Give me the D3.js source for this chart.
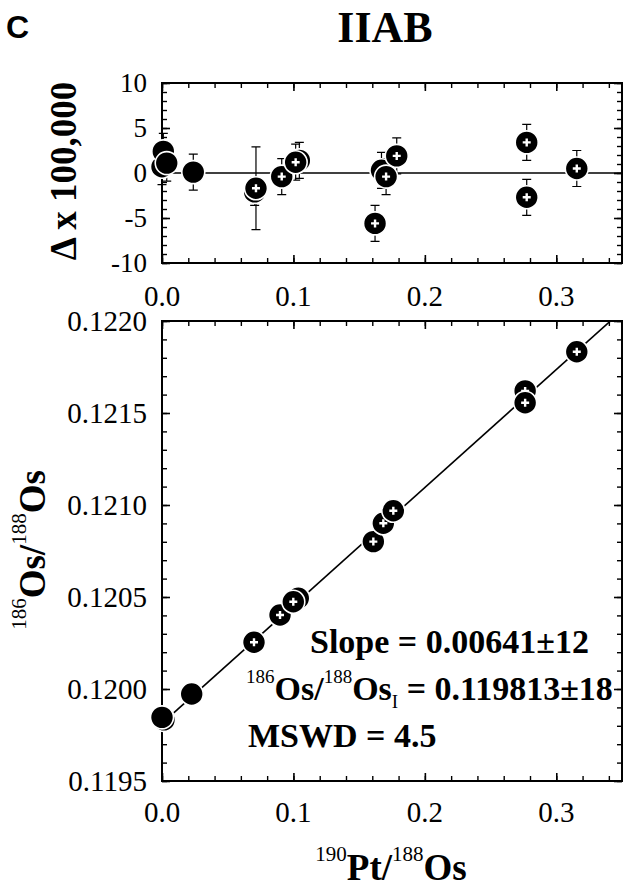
<!DOCTYPE html>
<html>
<head>
<meta charset="utf-8">
<script src="https://cdn.jsdelivr.net/npm/d3@7"></script>
<style>
  html, body { margin: 0; padding: 0; background: #fff; }
  svg { display: block; }
</style>
</head>
<body>
<svg id="chart" width="629" height="888"></svg>
<script>
// ---- Isochron data: 190Pt/188Os vs 186Os/188Os ----
const isoPt   = [0.0015, 0.0000, 0.0226, 0.0700, 0.0898, 0.1037, 0.0999, 0.1608, 0.1684, 0.1760, 0.2763, 0.2763, 0.3156];
const isoOs   = [0.119832, 0.119846, 0.119973, 0.120254, 0.120402, 0.120493, 0.120474, 0.120801, 0.120901, 0.120969, 0.121620, 0.121556, 0.121833];
const isoMark = ["dot", "dot", "dot", "cross", "cross", "cross", "cross", "cross", "cross", "cross", "cross", "cross", "cross"];

// ---- Residuals from the fit (x 100,000) with 2-sigma bars ----
const resPt    = [0.0000, 0.0010, 0.0036, 0.0238, 0.0705, 0.0715, 0.0911, 0.1045, 0.1017, 0.1621, 0.1670, 0.1705, 0.1786, 0.2775, 0.2775, 0.3156];
const resDelta = [0.7, 2.4, 1.1, 0.1, -2.1, -1.7, -0.4, 1.4, 1.2, -5.6, 0.3, -0.4, 1.9, 3.4, -2.7, 0.5];
const resErr   = [2.0, 2.0, 2.0, 2.0, 1.5, 4.6, 2.0, 2.0, 2.0, 2.0, 2.0, 2.0, 2.0, 2.0, 2.0, 2.0];
const resMark  = ["dot", "dot", "dot", "dot", "cross", "cross", "cross", "cross", "cross", "cross", "cross", "cross", "cross", "cross", "cross", "cross"];

// ---- Regression results ----
const fitSlope = 0.00641;
const fitIntercept = 0.119813;
const fitMSWD = 4.5;

// ---- Axis ticks ----
const xDomain = [0, 0.35];
const xMajor = [0.0, 0.1, 0.2, 0.3];
const xMinor = d3.range(0, 0.3501, 0.02);
const deltaDomain = [-10, 10];
const deltaMajor = [10, 5, 0, -5, -10];
const deltaMinor = d3.range(-10, 10.01, 1);
const osDomain = [0.1195, 0.1220];
const osMajor = [0.1195, 0.1200, 0.1205, 0.1210, 0.1215, 0.1220];
const osMinor = d3.range(0, 26).map(i => 0.1195 + i * 0.0001);

const SERIF = "'Liberation Serif', 'Times New Roman', Times, serif";
const SANS = "'Liberation Sans', Arial, Helvetica, sans-serif";

const svg = d3.select("#chart");

const left = 162, right = 622;
const top1 = { t: 83, b: 263 };
const bot1 = { t: 321, b: 781 };

const x = d3.scaleLinear().domain(xDomain).range([left, right]);
const yDelta = d3.scaleLinear().domain(deltaDomain).range([top1.b, top1.t]);
const yOs = d3.scaleLinear().domain(osDomain).range([bot1.b, bot1.t]);

// Inward ticks on all four sides of a panel
function frame(panel, yScale, yMinorVals, yMajorVals) {
  const g = svg.append("g");
  const sides = [
    [d3.axisBottom(x), `translate(0,${panel.b})`, xMinor, xMajor],
    [d3.axisTop(x), `translate(0,${panel.t})`, xMinor, xMajor],
    [d3.axisLeft(yScale), `translate(${left},0)`, yMinorVals, yMajorVals],
    [d3.axisRight(yScale), `translate(${right},0)`, yMinorVals, yMajorVals]
  ];
  sides.forEach(([ax, tr, minor, major]) => {
    const gm = g.append("g").attr("transform", tr)
      .call(ax.tickValues(minor).tickSize(-5).tickFormat(""));
    gm.select(".domain").remove();
    gm.selectAll("line").attr("stroke", "#000").attr("stroke-width", 1.4);
    const gM = g.append("g").attr("transform", tr)
      .call(ax.tickValues(major).tickSize(-8).tickFormat(""));
    gM.select(".domain").remove();
    gM.selectAll("line").attr("stroke", "#000").attr("stroke-width", 1.6);
  });
  g.append("rect")
    .attr("x", left).attr("y", panel.t)
    .attr("width", right - left).attr("height", panel.b - panel.t)
    .attr("fill", "none").attr("stroke", "#000").attr("stroke-width", 2);
  return g;
}

function marker(sel, cx, cy, mark) {
  sel.append("circle")
    .attr("cx", cx).attr("cy", cy).attr("r", 11.5)
    .attr("fill", "#000").attr("stroke", "#fff").attr("stroke-width", 1.6);
  if (mark === "cross") {
    sel.append("path")
      .attr("d", `M${cx - 4},${cy}H${cx + 4}M${cx},${cy - 4}V${cy + 4}`)
      .attr("stroke", "#fff").attr("stroke-width", 2.4).attr("fill", "none");
  }
}

// ---------------- Residual panel ----------------
svg.append("line")
  .attr("x1", x(xDomain[0])).attr("x2", x(xDomain[1]))
  .attr("y1", yDelta(0)).attr("y2", yDelta(0))
  .attr("stroke", "#000").attr("stroke-width", 1.6);

frame(top1, yDelta, deltaMinor, deltaMajor);

const resIdx = d3.range(resPt.length);
const bars = svg.append("g").attr("stroke", "#000").attr("stroke-width", 1.2).attr("fill", "none");
resIdx.forEach(i => {
  const cx = x(resPt[i]);
  const y1 = yDelta(resDelta[i] + resErr[i]);
  const y2 = yDelta(resDelta[i] - resErr[i]);
  bars.append("path").attr("d", `M${cx},${y1}V${y2}M${cx - 4.5},${y1}H${cx + 4.5}M${cx - 4.5},${y2}H${cx + 4.5}`);
});
const resPts = svg.append("g");
resIdx.forEach(i => marker(resPts.append("g"), x(resPt[i]), yDelta(resDelta[i]), resMark[i]));

// tick labels
svg.append("g").selectAll("text").data(deltaMajor).join("text")
  .attr("x", left - 15).attr("y", d => yDelta(d)).attr("dy", "0.35em")
  .attr("text-anchor", "end").attr("font-family", SERIF).attr("font-size", 27)
  .text(d => String(d));
svg.append("g").selectAll("text").data(xMajor).join("text")
  .attr("x", d => x(d)).attr("y", 306)
  .attr("text-anchor", "middle").attr("font-family", SERIF).attr("font-size", 29)
  .text(d => d.toFixed(1));

svg.append("text")
  .attr("transform", `translate(76,${(top1.t + top1.b) / 2 - 2}) rotate(-90)`)
  .attr("text-anchor", "middle").attr("font-family", SERIF)
  .attr("font-weight", "bold").attr("font-size", 37)
  .text("Δ x 100,000");

// ---------------- Isochron panel ----------------
frame(bot1, yOs, osMinor, osMajor);

svg.append("clipPath").attr("id", "isoClip")
  .append("rect").attr("x", left).attr("y", bot1.t)
  .attr("width", right - left).attr("height", bot1.b - bot1.t);

const fitLine = d3.line().x(d => x(d)).y(d => yOs(fitIntercept + fitSlope * d));
svg.append("path")
  .attr("clip-path", "url(#isoClip)")
  .attr("d", fitLine(xDomain))
  .attr("stroke", "#000").attr("stroke-width", 1.6).attr("fill", "none");

const isoPts = svg.append("g");
d3.range(isoPt.length).forEach(i => marker(isoPts.append("g"), x(isoPt[i]), yOs(isoOs[i]), isoMark[i]));

svg.append("g").selectAll("text").data(osMajor).join("text")
  .attr("x", left - 15).attr("y", d => yOs(d)).attr("dy", "0.35em")
  .attr("text-anchor", "end").attr("font-family", SERIF).attr("font-size", 29)
  .text(d => d.toFixed(4));
svg.append("g").selectAll("text").data(xMajor).join("text")
  .attr("x", d => x(d)).attr("y", 822)
  .attr("text-anchor", "middle").attr("font-family", SERIF).attr("font-size", 29)
  .text(d => d.toFixed(1));

// Text with isotope superscripts: parts = [[text, kind], ...]
function richText(g, parts, size, supSize, rise) {
  const offset = kind => kind === "sup" ? -rise : kind === "sub" ? rise * 0.45 : 0;
  parts.forEach(([t, kind], k) => {
    const prev = k > 0 ? parts[k - 1][1] : "main";
    const ts = g.append("tspan").text(t);
    const dy = offset(kind) - offset(prev);
    if (dy !== 0) ts.attr("dy", dy);
    if (kind === "main") ts.attr("font-size", size).attr("font-weight", "bold");
    else ts.attr("font-size", supSize).attr("font-weight", "normal");
  });
}

const yTitle = svg.append("text")
  .attr("transform", `translate(45,550) rotate(-90)`)
  .attr("text-anchor", "middle").attr("font-family", SERIF);
richText(yTitle, [["186", "sup"], ["Os/", "main"], ["188", "sup"], ["Os", "main"]], 37, 21, 19);

const xTitle = svg.append("text")
  .attr("x", 391).attr("y", 880)
  .attr("text-anchor", "middle").attr("font-family", SERIF);
richText(xTitle, [["190", "sup"], ["Pt/", "main"], ["188", "sup"], ["Os", "main"]], 37, 21, 19);

// regression summary
const note1 = svg.append("text").attr("x", 310).attr("y", 653).attr("font-family", SERIF);
richText(note1, [[`Slope = ${fitSlope.toFixed(5)}±12`, "main"]], 34, 19, 17);

const note2 = svg.append("text").attr("x", 246).attr("y", 700).attr("font-family", SERIF);
richText(note2, [["186", "sup"], ["Os/", "main"], ["188", "sup"], ["Os", "main"], ["I", "sub"],
  [` = ${fitIntercept.toFixed(6)}±18`, "main"]], 34, 19, 17);

const note3 = svg.append("text").attr("x", 248).attr("y", 747).attr("font-family", SERIF);
richText(note3, [[`MSWD = ${fitMSWD.toFixed(1)}`, "main"]], 34, 19, 17);

// ---------------- Titles ----------------
svg.append("text")
  .attr("x", 385).attr("y", 42).attr("text-anchor", "middle")
  .attr("font-family", SERIF).attr("font-weight", "bold").attr("font-size", 44)
  .text("IIAB");

svg.append("text")
  .attr("x", 6).attr("y", 38)
  .attr("font-family", SANS).attr("font-weight", "bold").attr("font-size", 32)
  .text("C");
</script>
</body>
</html>
